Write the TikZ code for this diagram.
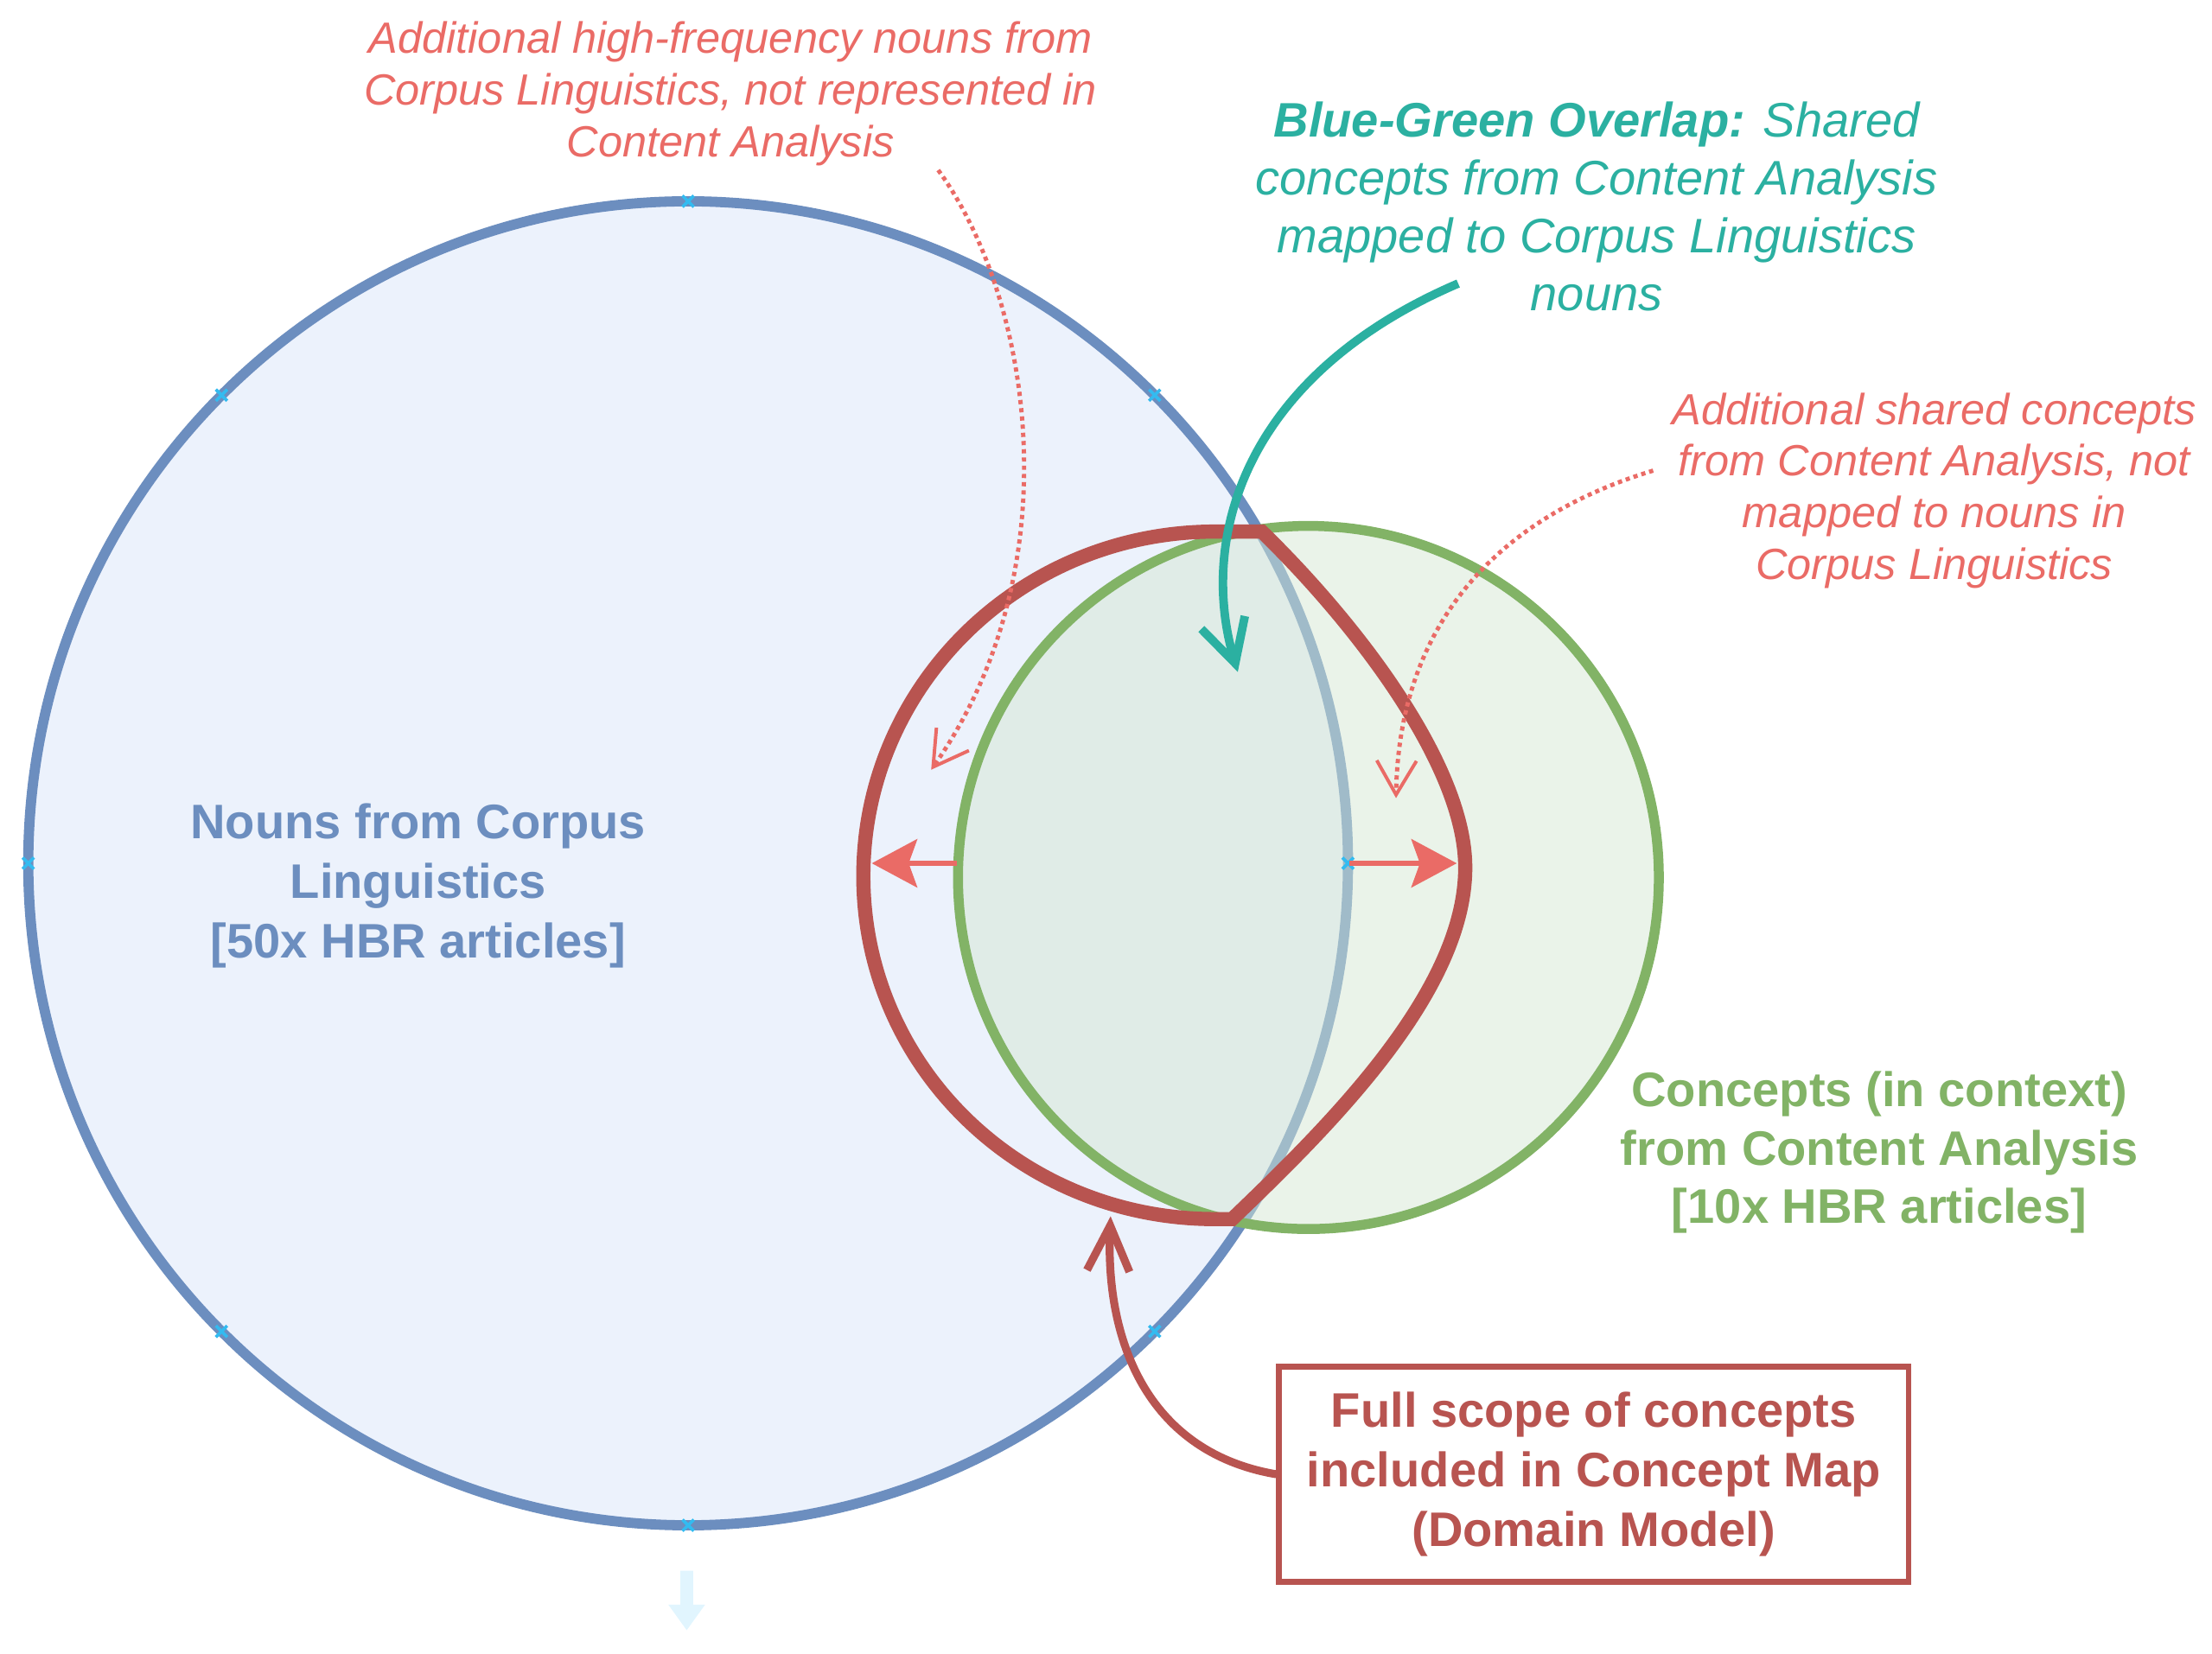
\documentclass[tikz,border=0pt]{standalone}
\usepackage{fontspec}
\setmainfont{Liberation Sans}
\usetikzlibrary{arrows.meta}
\definecolor{nounblue}{HTML}{6C8EBF}
\definecolor{nounfill}{HTML}{ECF2FC}
\definecolor{conceptgreen}{HTML}{82B366}
\definecolor{conceptfill}{HTML}{D5E8D4}
\definecolor{scopered}{HTML}{B85450}
\definecolor{notered}{HTML}{EA6B66}
\definecolor{overlapteal}{HTML}{2BB0A1}
\definecolor{handlecyan}{HTML}{33BBF0}
\definecolor{hintblue}{HTML}{E1F5FE}

\begin{document}
\begin{tikzpicture}[x=0.49825pt,y=-0.5pt,
        boldtext/.style={align=center, font=\fontsize{17.1}{21}\selectfont\bfseries},
        notetext/.style={align=center, text=notered, font=\fontsize{15.4}{18.2}\selectfont\itshape},
        handle/.style={handlecyan, line width=1.1pt},
        pointer/.style={notered, line width=1.8pt, -{Stealth[length=16pt,width=17pt,inset=3pt]}},
        dotnote/.style={notered, line width=1.5pt, dash pattern=on 1.5pt off 1.4pt, -{Straight Barb[length=12pt,width=14pt,line width=1.2pt]}},
        overlaparrow/.style={overlapteal, line width=3pt, -{Straight Barb[length=15pt,width=16pt]}},
        scopearrow/.style={scopered, line width=2.8pt, -{Straight Barb[length=16pt,width=15pt]}},
        scopebox/.style={boldtext, draw=scopered, line width=2pt, fill=white, text=scopered, minimum width=222pt, minimum height=76pt, inner sep=0pt}]
        \useasboundingbox (0,0) rectangle (1565.5,1166.2);
        % Nouns circle (Corpus Linguistics)
        \coordinate (blueC) at (487,609);
        \filldraw[fill=nounfill, draw=nounblue, line width=3.6pt] (blueC) circle (467);
        % Concepts circle (Content Analysis), see-through fill
        \coordinate (greenC) at (926,619);
        \fill[conceptfill, fill opacity=0.5] (greenC) circle (248);
        \draw[conceptgreen, line width=3.5pt] (greenC) circle (248);
        % Handles on the nouns circle
        \foreach \a in {0,45,...,315}
            \draw[handle] (blueC) ++(\a:467) +(-4,-4) -- +(4,4) +(-4,4) -- +(4,-4);
        % Full scope outline
        \draw[scopered, line width=5pt, line cap=round] (611,618) .. controls (611,752) and (722,860) .. (860,860) -- (872,860)
            .. controls (940,795) and (1037,700) .. (1037,612) .. controls (1037,540) and (960,440) .. (893,375)
            -- (860,375) .. controls (722,375) and (611,484) .. (611,618);
        % Scope grows outwards on both sides
        \coordinate (greenW) at (677,609);
        \coordinate (scopeW) at (617,609);
        \coordinate (blueE) at (955,609);
        \coordinate (scopeE) at (1031,609);
        \draw[pointer] (greenW) -- (scopeW);
        \draw[pointer] (blueE) -- (scopeE);
        % Notes on the additional parts
        \node[notetext] (nounnote) at (517,66) {Additional high-frequency nouns from\\Corpus Linguistics, not represented in\\Content Analysis};
        \node[notetext] (sharednote) at (1369,346) {Additional shared concepts\\from Content Analysis, not\\mapped to nouns in\\Corpus Linguistics};
        \coordinate (nounnoteFrom) at (664,120);
        \coordinate (nounnoteTo) at (659,543);
        \draw[dotnote] (nounnoteFrom) .. controls (730,210) and (760,400) .. (nounnoteTo);
        \coordinate (sharednoteFrom) at (1170,332);
        \coordinate (sharednoteTo) at (988,563);
        \draw[dotnote] (sharednoteFrom) .. controls (1060,365) and (990,440) .. (sharednoteTo);
        % Overlap note
        \node[align=center, text=overlapteal, font=\fontsize{17.1}{20.4}\selectfont\itshape] (overlap) at (1130,145.5)
            {{\bfseries Blue-Green Overlap:} Shared\\concepts from Content Analysis\\mapped to Corpus Linguistics\\nouns};
        \coordinate (overlapFrom) at (1032,200);
        \coordinate (overlapTo) at (876,474);
        \draw[overlaparrow] (overlapFrom) .. controls (880,265) and (848,380) .. (overlapTo);
        % Circle labels
        \node[boldtext, text=nounblue] (nouns) at (296,625) {Nouns from Corpus\\Linguistics\\{[50x HBR articles]}};
        \node[boldtext, text=conceptgreen, font=\fontsize{17.1}{20.5}\selectfont\bfseries] (concepts) at (1330,813) {Concepts (in context)\\from Content Analysis\\{[10x HBR articles]}};
        % Full scope box
        \node[scopebox] (scope) at (1128,1040) {Full scope of concepts\\included in Concept Map\\(Domain Model)};
        \coordinate (scopeS) at (786,858);
        \draw[scopearrow] (scope.west) .. controls (815,1025) and (782,950) .. (scopeS);
        % Hover arrow under the nouns circle
        \fill[hintblue] (481.5,1108) -- (490.5,1108) -- (490.5,1132) -- (499,1132) -- (486,1150) -- (473,1132) -- (481.5,1132) -- cycle;
    \end{tikzpicture}
\end{document}
